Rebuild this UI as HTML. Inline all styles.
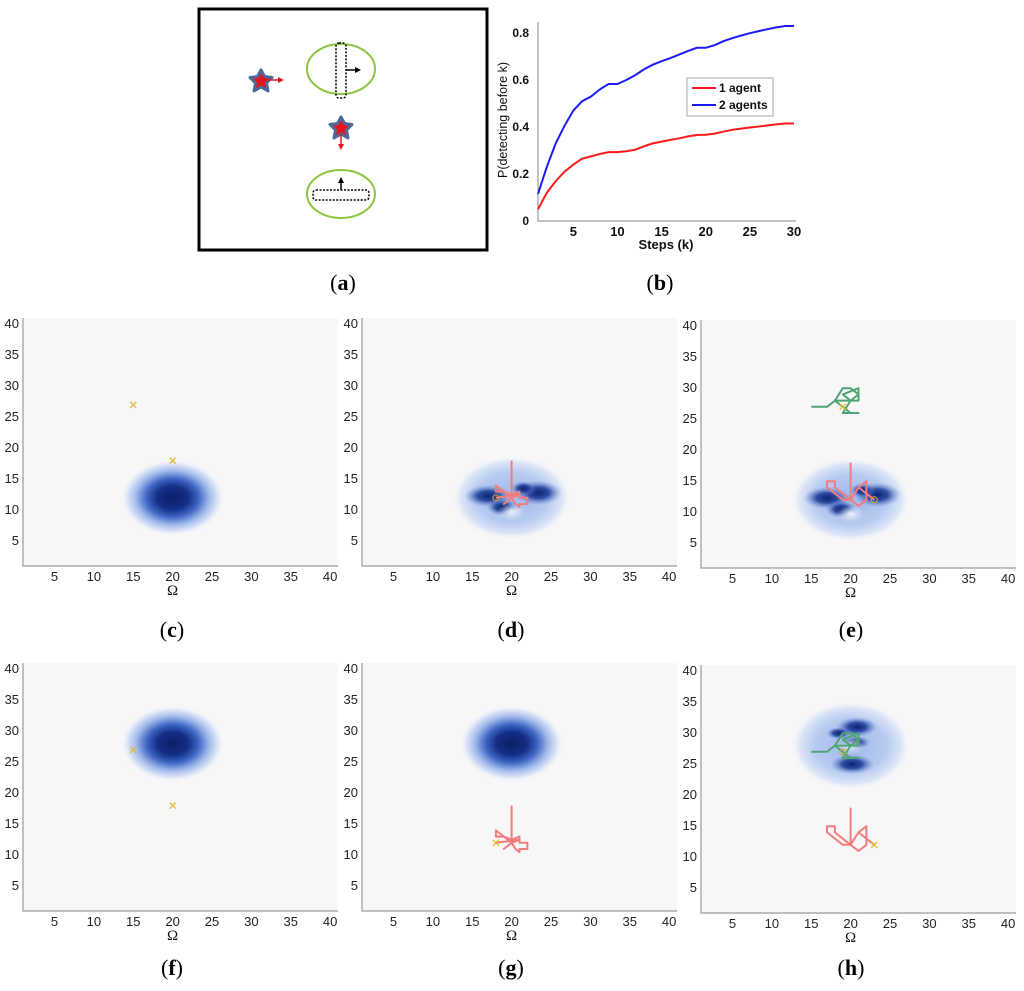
<!DOCTYPE html>
<html><head><meta charset="utf-8"><style>
html,body{margin:0;padding:0;background:#fff;}
body{width:1024px;height:991px;position:relative;overflow:hidden;font-family:"Liberation Sans",sans-serif;}
svg{position:absolute;left:0;top:0;}
</style></head><body>
<svg id="fig" width="1024" height="991" viewBox="0 0 1024 991">
<defs>
<radialGradient id="blob" cx="50%" cy="50%" r="50%">
<stop offset="0" stop-color="#0b1f66"/><stop offset="0.3" stop-color="#142f86"/>
<stop offset="0.5" stop-color="#3e66c4"/><stop offset="0.7" stop-color="#9fb8ea"/>
<stop offset="0.88" stop-color="#dfe7f7"/><stop offset="1" stop-color="#f7f7f7" stop-opacity="0"/>
</radialGradient>
<radialGradient id="halo" cx="50%" cy="50%" r="50%">
<stop offset="0" stop-color="#9fb7ea"/><stop offset="0.6" stop-color="#b7caf0"/>
<stop offset="0.85" stop-color="#dce5f7"/><stop offset="1" stop-color="#f7f7f7" stop-opacity="0"/>
</radialGradient>
<radialGradient id="dark" cx="50%" cy="50%" r="50%">
<stop offset="0" stop-color="#0d2470"/><stop offset="0.45" stop-color="#1f3f9a" stop-opacity="0.9"/>
<stop offset="1" stop-color="#6f8fd8" stop-opacity="0"/>
</radialGradient>
<radialGradient id="hole" cx="50%" cy="50%" r="50%">
<stop offset="0" stop-color="#eef3fb"/><stop offset="1" stop-color="#dbe5f7" stop-opacity="0"/>
</radialGradient>
</defs>
<g id="panelA">
<rect x="199" y="9" width="288" height="241" fill="#fff" stroke="#000" stroke-width="3"/>
<ellipse cx="341" cy="69" rx="34" ry="25" fill="none" stroke="#8cc63f" stroke-width="2"/>
<rect x="336" y="43" width="10" height="55" rx="3" fill="none" stroke="#000" stroke-width="1.5" stroke-dasharray="2,1.5"/>
<line x1="346" y1="70" x2="358" y2="70" stroke="#000" stroke-width="1.5"/>
<polygon points="361,70 355,67 355,73" fill="#000"/>
<ellipse cx="341" cy="194" rx="34" ry="24" fill="none" stroke="#8cc63f" stroke-width="2"/>
<rect x="313" y="190" width="56" height="10" rx="3" fill="none" stroke="#000" stroke-width="1.5" stroke-dasharray="2,1.5"/>
<line x1="341" y1="190" x2="341" y2="180" stroke="#000" stroke-width="1.5"/>
<polygon points="341,177 338,183 344,183" fill="#000"/>
<g>
<polygon points="261,70 264.5,76.5 272,77.5 266.5,83 268,91 261,87 254,91 255.5,83 250,77.5 257.5,76.5" fill="#e8141c" stroke="#4a6a99" stroke-width="3" stroke-linejoin="round"/>
<line x1="266" y1="80" x2="280" y2="80" stroke="#e8141c" stroke-width="1.5"/><polygon points="284,80 278,77 278,83" fill="#e8141c"/>
</g>
<g>
<polygon points="341,117 344.5,123.5 352,124.5 346.5,130 348,138 341,134 334,138 335.5,130 330,124.5 337.5,123.5" fill="#e8141c" stroke="#4a6a99" stroke-width="3" stroke-linejoin="round"/>
<line x1="341" y1="134" x2="341" y2="146" stroke="#e8141c" stroke-width="1.5"/><polygon points="341,150 338,144 344,144" fill="#e8141c"/>
</g>
</g>
<g id="panelB"></g>
<g id="heat"></g>
<g id="captions" font-family="Liberation Serif, serif" font-size="22" text-anchor="middle">
<text x="343" y="290">(<tspan font-weight="bold">a</tspan>)</text>
<text x="660" y="290">(<tspan font-weight="bold">b</tspan>)</text>
<text x="172" y="637">(<tspan font-weight="bold">c</tspan>)</text>
<text x="511" y="637">(<tspan font-weight="bold">d</tspan>)</text>
<text x="851" y="637">(<tspan font-weight="bold">e</tspan>)</text>
<text x="172" y="975">(<tspan font-weight="bold">f</tspan>)</text>
<text x="511" y="975">(<tspan font-weight="bold">g</tspan>)</text>
<text x="851" y="975">(<tspan font-weight="bold">h</tspan>)</text>
</g>
</svg>
<script>
const NS="http://www.w3.org/2000/svg";
// ---- Panel (b) data ----
const steps=[1,2,3,4,5,6,7,8,9,10,11,12,13,14,15,16,17,18,19,20,21,22,23,24,25,26,27,28,29,30];
const oneAgent=[0.05,0.12,0.17,0.21,0.24,0.265,0.275,0.285,0.293,0.293,0.297,0.303,0.318,0.33,0.338,0.345,0.352,0.36,0.366,0.367,0.372,0.38,0.388,0.393,0.398,0.402,0.407,0.411,0.415,0.415];
const twoAgents=[0.115,0.23,0.33,0.405,0.47,0.51,0.53,0.56,0.583,0.583,0.6,0.62,0.645,0.665,0.68,0.693,0.708,0.724,0.737,0.737,0.748,0.765,0.778,0.789,0.799,0.808,0.816,0.824,0.83,0.83];
const xTicksB=[5,10,15,20,25,30];
const yTicksB=[0,0.2,0.4,0.6,0.8];
// ---- heatmap panel data ----
const gridTicks=[5,10,15,20,25,30,35,40];
const redPathE=[[20,18],[20,12],[21,11],[22,12],[22,15],[21,14],[20,12],[19,12],[17,14],[17,15],[18,15],[18,14],[19,13],[20,12],[21,14],[23,12]];
const greenPathE=[[15,27],[17,27],[18,28],[20,28],[19,29],[21,30],[21,28],[20,28],[19,26],[21,26],[20,26],[19,27],[18,28],[19,30],[20,30],[21,29],[20,28]];
const redPathD=[[20,18],[20,12],[19,13],[18,14],[18,13],[19,13],[20,12.5],[21,13],[21,12],[22,12],[22,11],[21,11],[21,10.5],[20.5,11],[20,12],[19,11],[20,12],[21,12.5],[18,12]];
const belief1Center=[20,12];
const belief2Center=[20,28];

function el(tag,attrs,parent,text){const e=document.createElementNS(NS,tag);for(const k in attrs)e.setAttribute(k,attrs[k]);if(text!==undefined)e.textContent=text;parent.appendChild(e);return e;}

(function(){
 const g=document.getElementById('panelB');
 const X0=538,X1=794,Y0=221,Y8=33;
 const xs=k=>X0+(k-1)*(X1-X0)/29;
 const ys=v=>Y0-(v/0.8)*(Y0-Y8);
 let ax=el('path',{d:`M${X0},22 L${X0},${Y0} L${X1+2},${Y0}`,fill:'none',stroke:'#888','stroke-width':1},g);
 
 
 xTicksB.forEach(t=>{const e=el('text',{x:xs(t),y:236,'text-anchor':'middle','font-size':13,'font-weight':'bold',fill:'#111'},g,String(t));
  
  });
 yTicksB.forEach(t=>{const e=el('text',{x:529,y:ys(t)+4,'text-anchor':'end','font-size':12,'font-weight':'bold',fill:'#111'},g,String(t));
  
  });
 let xl=el('text',{x:666,y:249,'text-anchor':'middle','font-size':13,'font-weight':'bold',fill:'#111'},g,'Steps (k)');
 
 
 let yl=el('text',{x:0,y:0,transform:'translate(507,120) rotate(-90)','text-anchor':'middle','font-size':12.5,fill:'#111'},g,'P(detecting before k)');
 
 
 const mk=(arr,col,name)=>{const d=arr.map((v,i)=>(i?'L':'M')+xs(steps[i]).toFixed(1)+','+ys(v).toFixed(1)).join(' ');
  const p=el('path',{d:d,fill:'none',stroke:col,'stroke-width':2},g);
  
  };
 mk(oneAgent,'#ff1a1a','line-1-agent');
 mk(twoAgents,'#1a1aff','line-2-agents');
 const lg=el('g',{},g);
 
 
 el('rect',{x:687,y:78,width:86,height:38,fill:'#fff',stroke:'#aaa','stroke-width':1},lg);
 el('line',{x1:692,y1:88,x2:716,y2:88,stroke:'#ff1a1a','stroke-width':2},lg);
 const t1=el('text',{x:719,y:92,'font-size':12,'font-weight':'bold',fill:'#111'},lg,'1 agent');
 
 
 el('line',{x1:692,y1:105,x2:716,y2:105,stroke:'#1a1aff','stroke-width':2},lg);
 const t2=el('text',{x:719,y:109,'font-size':12,'font-weight':'bold',fill:'#111'},lg,'2 agents');
 
 
})();

const panels=[
 {id:'c',L:23,T:318,type:'single',c:belief1Center,x:[[15,27,'x'],[20,18,'x']]},
 {id:'d',L:362,T:318,type:'split',c:belief1Center,red:redPathD,x:[[18,12,'o']]},
 {id:'e',L:701,T:320,type:'split',c:belief1Center,red:redPathE,green:greenPathE,x:[[23,12,'o'],[19,27,'x']]},
 {id:'f',L:23,T:663,type:'single',c:belief2Center,x:[[15,27,'x'],[20,18,'x']]},
 {id:'g',L:362,T:663,type:'single',c:belief2Center,red:redPathD,x:[[18,12,'x']]},
 {id:'h',L:701,T:665,type:'splitv',c:belief2Center,red:redPathE,green:greenPathE,x:[[23,12,'x'],[19,27,'o']]}
];
const root=document.getElementById('heat');
panels.forEach(P=>{
 const W=315,H=248;
 const sx=v=>P.L+(v-1)/40*W, sy=v=>P.T+H-(v-1)/40*H;
 const ux=W/40, uy=H/40;
 const g=el('g',{},root);
 
 
 el('rect',{x:P.L,y:P.T,width:W,height:H,fill:'#f7f7f7'},g);
 const cx=sx(P.c[0]),cy=sy(P.c[1]);
 if(P.type==='single'){
  const b=el('ellipse',{cx:cx,cy:cy,rx:6.6*ux,ry:6.2*uy,fill:'url(#blob)'},g);
  
  
 } else {
  const b=el('ellipse',{cx:cx,cy:cy,rx:7.6*ux,ry:(P.type==='splitv'?7.2:6.8)*uy,fill:'url(#halo)'},g);
  
  
  const lobes=P.type==='splitv'?[[0.8,3,2.6,1.6],[0.2,-3,2.8,1.6],[0.5,0.5,2,1.1],[-1.5,2,1.6,1]]:[[-3,0.3,3,1.8],[3.4,0.8,3,2],[-1.2,-1.5,2,1.4],[1.5,1.5,1.6,1.2]];
  lobes.forEach(l=>{const e=el('ellipse',{cx:cx+l[0]*ux,cy:cy-l[1]*uy,rx:l[2]*ux,ry:l[3]*uy,fill:'url(#dark)'},g);
   
   });
  el('ellipse',{cx:cx,cy:cy+(P.type==='splitv'?0:2.3*uy),rx:1.8*ux,ry:1.4*uy,fill:'url(#hole)'},g);
 }
 const drawPath=(pts,col,name)=>{const d=pts.map((p,i)=>(i?'L':'M')+sx(p[0]).toFixed(1)+','+sy(p[1]).toFixed(1)).join(' ');
  const p=el('path',{d:d,fill:'none',stroke:col,'stroke-width':2,'stroke-linejoin':'round'},g);
  
  };
 if(P.red)drawPath(P.red,'#f47c7c','agent-1-trajectory');
 if(P.green)drawPath(P.green,'#4fa674','agent-2-trajectory');
 P.x.forEach(m=>{const x=sx(m[0]),y=sy(m[1]);
  const gm=el('g',{},g);
  
  
  if(m[2]==='x'){el('path',{d:`M${x-3},${y-3}L${x+3},${y+3}M${x-3},${y+3}L${x+3},${y-3}`,stroke:'#e8b830','stroke-width':1.3},gm);}
  else el('circle',{cx:x,cy:y,r:3,fill:'none',stroke:'#d4a92a','stroke-width':1},gm);});
 el('path',{d:`M${P.L},${P.T} L${P.L},${P.T+H} L${P.L+W},${P.T+H}`,fill:'none',stroke:'#9a9a9a','stroke-width':1.2},g);
 gridTicks.forEach(t=>{
  const a=el('text',{x:sx(t),y:P.T+H+15,'text-anchor':'middle','font-size':13,fill:'#222'},g,String(t));
  
  
  const b=el('text',{x:P.L-4,y:sy(t)+4,'text-anchor':'end','font-size':13,fill:'#222'},g,String(t));
  
  
 });
 const om=el('text',{x:sx(20),y:P.T+H+29,'text-anchor':'middle','font-size':15,'font-family':'Liberation Serif, serif',fill:'#111'},g,'Ω');
 
 
});
</script>
</body></html>
